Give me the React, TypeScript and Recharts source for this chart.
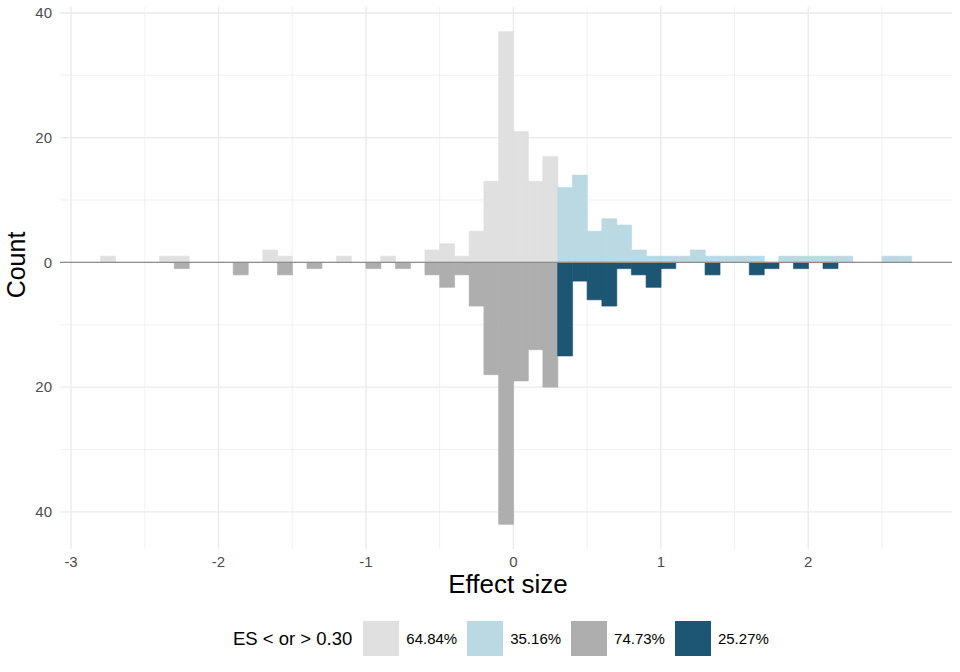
import { BarChart, Bar, XAxis, YAxis, ReferenceLine, CartesianGrid } from "recharts";

// histogram bins (width 0.1), given by their mid point
const binMids = [
  -2.75, -2.65, -2.55, -2.45, -2.35, -2.25, -2.15, -2.05, -1.95, -1.85,
  -1.75, -1.65, -1.55, -1.45, -1.35, -1.25, -1.15, -1.05, -0.95, -0.85,
  -0.75, -0.65, -0.55, -0.45, -0.35, -0.25, -0.15, -0.05, 0.05, 0.15,
  0.25, 0.35, 0.45, 0.55, 0.65, 0.75, 0.85, 0.95, 1.05, 1.15,
  1.25, 1.35, 1.45, 1.55, 1.65, 1.75, 1.85, 1.95, 2.05, 2.15,
  2.25, 2.35, 2.45, 2.55, 2.65,
];

// counts drawn above the zero line
const upperCounts = [
  1, 0, 0, 0, 1, 1, 0, 0, 0, 0,
  0, 2, 1, 0, 0, 0, 1, 0, 0, 1,
  0, 0, 2, 3, 1, 5, 13, 37, 21, 13,
  17, 12, 14, 5, 7, 6, 2, 1, 1, 1,
  2, 1, 1, 1, 1, 0, 1, 1, 1, 1,
  1, 0, 0, 1, 1,
];

// counts drawn below the zero line
const lowerCounts = [
  0, 0, 0, 0, 0, 1, 0, 0, 0, 2,
  0, 0, 2, 0, 1, 0, 0, 0, 1, 0,
  1, 0, 2, 4, 2, 7, 18, 42, 19, 14,
  20, 15, 3, 6, 7, 1, 2, 4, 1, 0,
  0, 2, 0, 0, 2, 1, 0, 1, 0, 1,
  0, 0, 0, 0, 0,
];

const threshold = 0.3;

const xDomain = [-3.075, 2.975];
const yDomain = [-45.95, 40.95];
const xTicks = [-3, -2, -1, 0, 1, 2];
const xMinor = [-2.5, -1.5, -0.5, 0.5, 1.5, 2.5];
const yTicks = [-40, -20, 0, 20, 40];
const yMinor = [-30, -10, 10, 30];

const legendTitle = "ES < or > 0.30";
const legendLabels = ["64.84%", "35.16%", "74.73%", "25.27%"];
const fills = ["#e0e0e0", "#bbd9e2", "#aeaeae", "#1c5673"];

const data = binMids.map((x, i) => {
  const below = x < threshold;
  return {
    x,
    lightUp: below ? upperCounts[i] : null,
    tealUp: below ? null : upperCounts[i],
    grayDown: below ? -lowerCounts[i] : null,
    darkDown: below ? null : -lowerCounts[i],
  };
});

const font = "'Liberation Sans', Arial, Helvetica, sans-serif";
const tickStyle = { fontSize: 15, fill: "#4d4d4d", fontFamily: font };

// grid positions: use the axis scale when the grid gets one, else the same linear map
const gridX = (args: any, values: number[]) => {
  const s = args?.xAxis?.scale;
  if (typeof s === "function") return values.map((v) => s(v));
  const { left, width } = args.offset;
  return values.map((v) => left + ((v - xDomain[0]) / (xDomain[1] - xDomain[0])) * width);
};
const gridY = (args: any, values: number[]) => {
  const s = args?.yAxis?.scale;
  if (typeof s === "function") return values.map((v) => s(v));
  const { top, height } = args.offset;
  return values.map((v) => top + ((yDomain[1] - v) / (yDomain[1] - yDomain[0])) * height);
};

const App = () => {
  return (
    <div style={{ position: "relative", width: 960, height: 672, fontFamily: font }}>
      <style>{"body{margin:0}"}</style>

      <BarChart
        width={960}
        height={672}
        data={data}
        stackOffset="sign"
        barCategoryGap={0}
        barGap={0}
        margin={{ top: 7, right: 8, bottom: 0, left: 0 }}
      >
        {/* minor and major grid, behind the bars */}
        <CartesianGrid
          stroke="#ebebeb"
          strokeWidth={0.7}
          verticalCoordinatesGenerator={(a: any) => gridX(a, xMinor)}
          horizontalCoordinatesGenerator={(a: any) => gridY(a, yMinor)}
        />
        <CartesianGrid
          stroke="#ebebeb"
          strokeWidth={1.4}
          verticalCoordinatesGenerator={(a: any) => gridX(a, xTicks)}
          horizontalCoordinatesGenerator={(a: any) => gridY(a, yTicks)}
        />

        <XAxis
          dataKey="x"
          type="number"
          domain={xDomain}
          allowDataOverflow
          ticks={xTicks}
          interval={0}
          height={123}
          axisLine={false}
          tickLine={false}
          tickSize={0}
          tickMargin={7}
          tick={tickStyle}
        />
        <YAxis
          type="number"
          domain={yDomain}
          allowDataOverflow
          ticks={yTicks}
          interval={0}
          width={60}
          axisLine={false}
          tickLine={false}
          tickSize={0}
          tickMargin={8}
          tick={tickStyle}
          tickFormatter={(v: number) => String(Math.abs(v))}
        />

        {/* same-colour outline closes the hairline seams between adjacent bins */}
        <Bar dataKey="lightUp" stackId="a" fill={fills[0]} stroke={fills[0]} strokeWidth={0.6} isAnimationActive={false} />
        <Bar dataKey="tealUp" stackId="a" fill={fills[1]} stroke={fills[1]} strokeWidth={0.6} isAnimationActive={false} />
        <Bar dataKey="grayDown" stackId="a" fill={fills[2]} stroke={fills[2]} strokeWidth={0.6} isAnimationActive={false} />
        <Bar dataKey="darkDown" stackId="a" fill={fills[3]} stroke={fills[3]} strokeWidth={0.6} isAnimationActive={false} />

        <ReferenceLine y={0} stroke="#8c8c8c" strokeWidth={1.2} />
      </BarChart>

      {/* axis titles */}
      <div
        style={{
          position: "absolute",
          left: 16,
          top: 265,
          transform: "translate(-50%, -50%) rotate(-90deg)",
          fontSize: 25,
          whiteSpace: "nowrap",
          lineHeight: 1,
        }}
      >
        Count
      </div>
      <div
        style={{
          position: "absolute",
          left: 508,
          top: 584,
          transform: "translate(-50%, -50%)",
          fontSize: 26,
          whiteSpace: "nowrap",
          lineHeight: 1,
        }}
      >
        Effect size
      </div>

      {/* legend */}
      <div
        style={{
          position: "absolute",
          left: 233,
          top: 621,
          height: 35,
          display: "flex",
          alignItems: "center",
          whiteSpace: "nowrap",
        }}
      >
        <span style={{ fontSize: 18.5, marginRight: 11 }}>{legendTitle}</span>
        {legendLabels.map((label, i) => (
          <div key={label} style={{ display: "flex", alignItems: "center" }}>
            <div style={{ width: 36, height: 35, background: fills[i] }} />
            <span style={{ fontSize: 15, marginLeft: 7, marginRight: 10 }}>{label}</span>
          </div>
        ))}
      </div>
    </div>
  );
};

export default App;
